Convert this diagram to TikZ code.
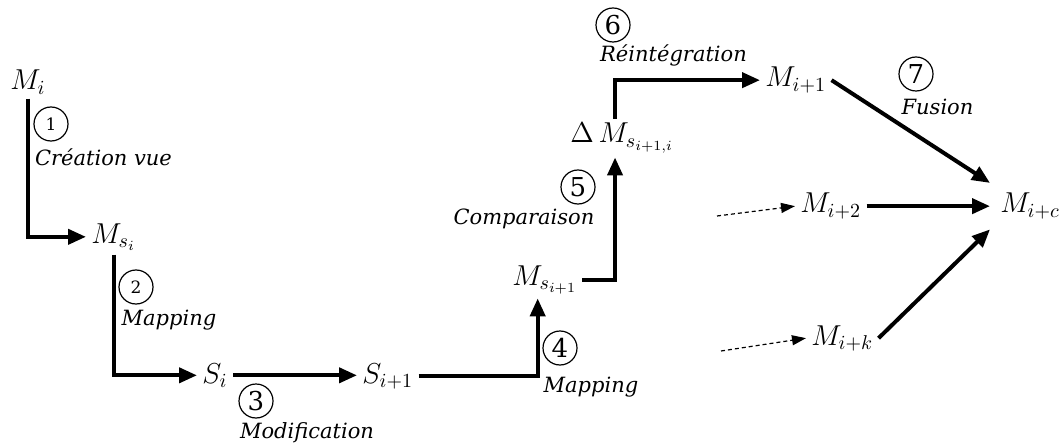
\documentclass[tikz,border=0pt]{standalone}
\usepackage{fontspec}
\setmainfont{DejaVu Serif}
\usetikzlibrary{arrows.meta}
\tikzset{
  model/.style={anchor=base west, inner xsep=2.5pt, inner ysep=2pt, font=\fontsize{14.5}{17}\selectfont},
  flow/.style={-{Triangle[length=9pt,width=7.5pt]}, line width=2pt},
  feed/.style={-{Triangle[length=7pt,width=5pt]}, line width=0.6pt, dash pattern=on 2pt off 1.5pt},
  num/.style={draw, circle, line width=0.6pt, minimum size=17pt, inner sep=0pt, font=\fontsize{13}{14}\selectfont},
  numsmall/.style={num, font=\fontsize{8.5}{10}\selectfont},
  op/.style={font=\itshape\fontsize{10.5}{12}\selectfont, inner sep=0pt}
}

\begin{document}
\begin{tikzpicture}[x=0.5pt, y=-0.5pt]
	\useasboundingbox (0,0) rectangle (1064,443);
	\node[model] (mi) at (5,90) {$M_i$};
	\node[model] (msi) at (86,243) {$M_{s_i}$};
	\node[model] (si) at (197,383) {$S_i$};
	\node[model] (si1) at (357,383) {$S_{i+1}$};
	\node[model] (msi1) at (507,285) {$M_{s_{i+1}}$};
	\node[model] (dms) at (565,143) {$\Delta\,M_{s_{i+1,i}}$};
	\node[model] (mi1) at (760,87) {$M_{i+1}$};
	\node[model] (mi2) at (795,213) {$M_{i+2}$};
	\node[model] (mik) at (806,345) {$M_{i+k}$};
	\node[model, inner sep=5pt] (mic) at (990,213) {$M_{i+c}$};
	\coordinate (from2) at (717,216);
	\coordinate (fromk) at (721,351);

	\draw[flow] (mi.south) |- (msi.west);
	\draw[flow] (msi.south) |- (si.west);
	\draw[flow] (si.east) -- (si.east -| si1.west);
	\draw[flow] (si1.east) -| ([xshift=-3.5pt]msi1.south);
	\draw[flow] (msi1.east) -| ([xshift=-3.5pt]dms.south);
	\draw[flow] ([xshift=-3.5pt]dms.north) |- (mi1.west);
	\draw[flow] (mi1.east) -- (mic.north west);
	\draw[flow] (mi2.east) -- (mic.west);
	\draw[flow] (mik.east) -- (mic.south west);
	\draw[feed] (from2) -- (mi2.west);
	\draw[feed] (fromk) -- (mik.west);

	\node[numsmall] (n1) at (51,124) {1};
	\node[op] (t1) at (103.5,157) {Création vue};
	\node[numsmall] (n2) at (136,287) {2};
	\node[op] (t2) at (169,320) {Mapping};
	\node[num] (n3) at (256,401) {3};
	\node[op] (t3) at (307,433) {Modification};
	\node[num] (n4) at (560,348) {4};
	\node[op] (t4) at (591,387) {Mapping};
	\node[num] (n5) at (578,187) {5};
	\node[op] (t5) at (524,219) {Comparaison};
	\node[num] (n6) at (613,25) {6};
	\node[op] (t6) at (673.5,55) {Réintégration};
	\node[num] (n7) at (916,74) {7};
	\node[op] (t7) at (937.5,107) {Fusion};
\end{tikzpicture}
\end{document}
